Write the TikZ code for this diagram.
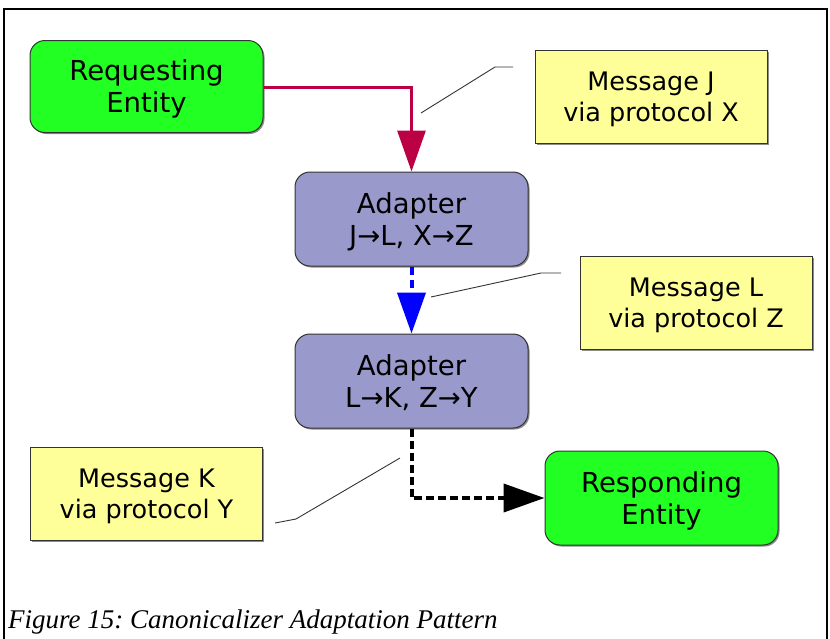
\documentclass[tikz,border=0pt]{standalone}
\usepackage{fontspec}
\setmainfont{DejaVu Sans}
\newfontfamily\capfont{Liberation Serif}
\usetikzlibrary{arrows.meta,shadows}
\definecolor{entgreen}{HTML}{22FF22}
\definecolor{adaptblue}{HTML}{9999CC}
\definecolor{noteyellow}{HTML}{FFFF99}
\definecolor{flowred}{HTML}{BB0044}
\definecolor{edgegray}{HTML}{333333}
\frenchspacing
\tikzset{
  box/.style={draw=edgegray, line width=1pt, rounded corners=15pt, align=center,
    inner sep=0pt, text depth=0pt, font=\fontsize{27.5}{32}\selectfont,
    drop shadow={shadow xshift=1.5pt, shadow yshift=-1.5pt, fill=black!45, opacity=1}},
  entity/.style={box, fill=entgreen, minimum width=233pt, minimum height=92pt},
  adapter/.style={box, fill=adaptblue, minimum width=233pt, minimum height=94pt},
  note/.style={box, rounded corners=0pt, fill=noteyellow, minimum width=232pt, minimum height=93pt,
    font=\fontsize{25.5}{31}\selectfont},
  leader/.style={draw=edgegray, line width=0.9pt},
}
\begin{document}
\begin{tikzpicture}[x=1pt, y=-1pt]
\useasboundingbox (0,0) rectangle (830,638);
\draw[line width=1.5pt] (4,640) -- (4,9) -- (827,9) -- (827,640);

\node[entity] (req) at (146.5,86.5) {Requesting\\Entity};
\node[adapter] (a1) at (411.5,219) {Adapter\\J→L, X→Z};
\node[adapter] (a2) at (411.5,381) {Adapter\\L→K, Z→Y};
\node[entity, minimum height=94pt] (resp) at (661.5,498) {Responding\\Entity};
\node[note] (nj) at (651,96.5) {Message J\\via protocol X};
\node[note] (nl) at (696,302.5) {Message L\\via protocol Z};
\node[note] (nk) at (146.5,493.5) {Message K\\via protocol Y};

\draw[-{Triangle[length=41pt, width=28pt, fill=flowred]}, draw=flowred, line width=3pt] (req.east |- 0,87) -| (a1.north);
\draw[-{Triangle[length=41pt, width=28pt, fill=blue]}, draw=blue, line width=4pt, dash pattern=on 8pt off 5pt] (a1.south) -- (a2.north);
\draw[-{Triangle[length=41pt, width=28pt, fill=black]}, draw=black, line width=4pt, dash pattern=on 8pt off 4pt] (a2.south) |- (resp.west);

\coordinate (lj1) at (513,67);
\coordinate (lj2) at (495,67);
\coordinate (lj3) at (421,113);
\draw[leader] (lj1) -- (lj2) -- (lj3);
\coordinate (ll1) at (561,273);
\coordinate (ll2) at (541,273);
\coordinate (ll3) at (431,297);
\draw[leader] (ll1) -- (ll2) -- (ll3);
\coordinate (lk1) at (275,523);
\coordinate (lk2) at (296,519);
\coordinate (lk3) at (400,458);
\draw[leader] (lk1) -- (lk2) -- (lk3);

\node[anchor=base west, inner sep=0pt, font=\capfont\itshape\fontsize{27}{30}\selectfont] (cap) at (8,628) {Figure 15: Canonicalizer Adaptation Pattern};
\end{tikzpicture}
\end{document}
